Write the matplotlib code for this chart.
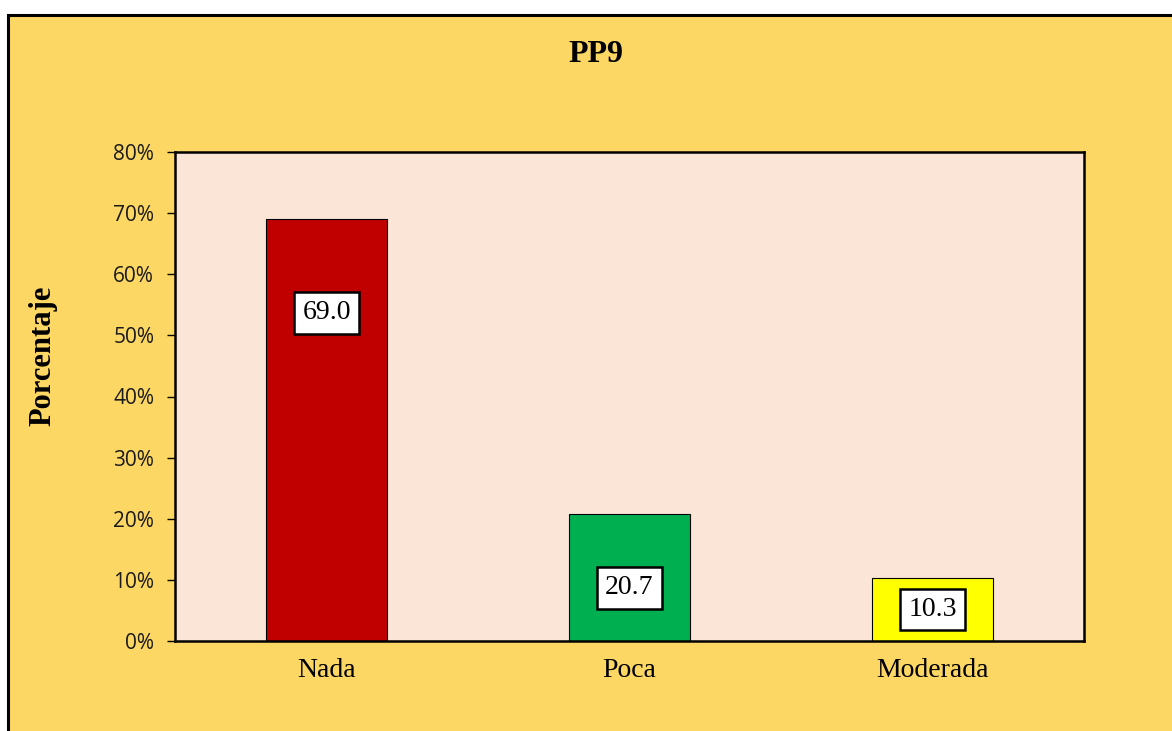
import matplotlib
matplotlib.use("Agg")
import matplotlib.pyplot as plt
from matplotlib.patches import Rectangle
from matplotlib.ticker import PercentFormatter

categories = ["Nada", "Poca", "Moderada"]
values = [69.0, 20.7, 10.3]
colors = ["#C00000", "#00B050", "#FFFF00"]
label_frac = [0.778, 0.42, 0.50]  # label centre height as fraction of bar

W, H = 1172, 731
fig = plt.figure(figsize=(W / 100, H / 100), dpi=100)
fig.patch.set_facecolor("white")

frame = Rectangle((8 / W, -0.05), 1.1, 1 - 15 / H + 0.05, transform=fig.transFigure,
                  facecolor="#FDD764", edgecolor="black", linewidth=2.2, zorder=-5)
fig.patches.append(frame)

ax = fig.add_axes([175 / W, (H - 641) / H, 909 / W, 489 / H])
ax.set_facecolor("#FBE5D6")
x = list(range(len(categories)))
bars = ax.bar(x, values, width=0.4, color=colors, edgecolor="black", linewidth=0.8, zorder=2)
ax.set_xlim(-0.5, 2.5)
ax.set_ylim(0, 80)
ax.set_yticks(range(0, 81, 10))
ax.yaxis.set_major_formatter(PercentFormatter(decimals=0))
ax.set_xticks(x)
ax.set_xticklabels(categories, fontfamily="Liberation Serif", fontsize=20)
ax.tick_params(axis="x", length=0, pad=12)
ax.tick_params(axis="y", length=6, width=1, pad=9, labelsize=15, labelcolor="#1a1a1a")
for lbl in ax.get_yticklabels():
    lbl.set_fontfamily("Open Sans")
for s in ax.spines.values():
    s.set_linewidth(1.8)
    s.set_color("black")

for xi, v, f in zip(x, values, label_frac):
    ax.text(xi, v * f, f"{v:.1f}", ha="center", va="center",
            fontfamily="Liberation Serif", fontsize=20, zorder=3,
            bbox=dict(boxstyle="square,pad=0.3", facecolor="white",
                      edgecolor="black", linewidth=1.8))

fig.text(596 / W, 1 - 55 / H, "PP9", ha="center", va="center",
         fontfamily="Liberation Serif", fontweight="bold", fontsize=23)
fig.text(43 / W, 1 - 356 / H, "Porcentaje", ha="center", va="center", rotation=90,
         fontfamily="Liberation Serif", fontweight="bold", fontsize=22)

fig.savefig("out.png", dpi=100)
